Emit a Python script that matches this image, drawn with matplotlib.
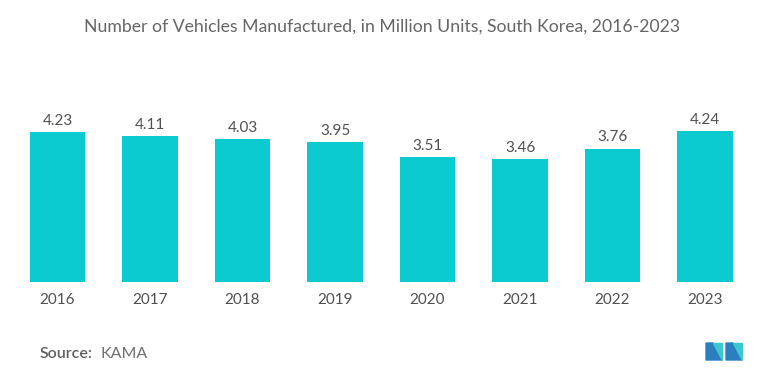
import matplotlib
matplotlib.use("Agg")
import matplotlib.pyplot as plt
from matplotlib.patches import Polygon

years = ["2016", "2017", "2018", "2019", "2020", "2021", "2022", "2023"]
units = [4.23, 4.11, 4.03, 3.95, 3.51, 3.46, 3.76, 4.24]

W, H = 765, 375
BAR_COLOR = "#0BCBD0"
TEXT = "#505050"

plt.rcParams["font.family"] = ["Lato", "DejaVu Sans"]

fig = plt.figure(figsize=(W / 100, H / 100), dpi=100)
ax = fig.add_axes([11.25 / W, 93 / H, 740 / W, 177.5 / H])

x = range(len(years))
bars = ax.bar(x, units, width=0.595, color=BAR_COLOR)
for b, v in zip(bars, units):
    ax.text(b.get_x() + b.get_width() / 2, v + 0.12, f"{v:.2f}",
            ha="center", va="bottom", fontsize=11, color=TEXT)

ax.set_xlim(-0.5, len(years) - 0.5)
ax.set_ylim(0, 5)
ax.set_xticks(list(x))
ax.set_xticklabels(years, fontsize=11, color=TEXT)
ax.tick_params(axis="x", length=0, pad=8)
ax.set_yticks([])
for s in ax.spines.values():
    s.set_visible(False)

fig.text(0.5, 1 - 27 / H, "Number of Vehicles Manufactured, in Million Units, South Korea, 2016-2023",
         ha="center", va="center", fontsize=12.7, color="#666666")

fig.text(40 / W, 1 - 354 / H, "Source:", ha="left", va="center", fontsize=11.5,
         color="#606060", fontweight="semibold")
fig.text(100 / W, 1 - 354 / H, "KAMA", ha="left", va="center", fontsize=11.5, color="#707070")

# logo
def px(pts):
    return [(a / W, 1 - b / H) for a, b in pts]

logo = [
    ([(706, 360), (706, 343), (713, 343), (722, 360)], "#2B7FBF"),
    ([(713, 343), (722, 343), (722, 360)], "#3CC8CF"),
    ([(726, 360), (726, 343), (733, 343), (742, 360)], "#2B7FBF"),
    ([(733, 343), (742, 343), (742, 360)], "#3CC8CF"),
]
for pts, c in logo:
    fig.patches.append(Polygon(px(pts), closed=True, color=c, transform=fig.transFigure))

fig.savefig("out.png", dpi=100)
